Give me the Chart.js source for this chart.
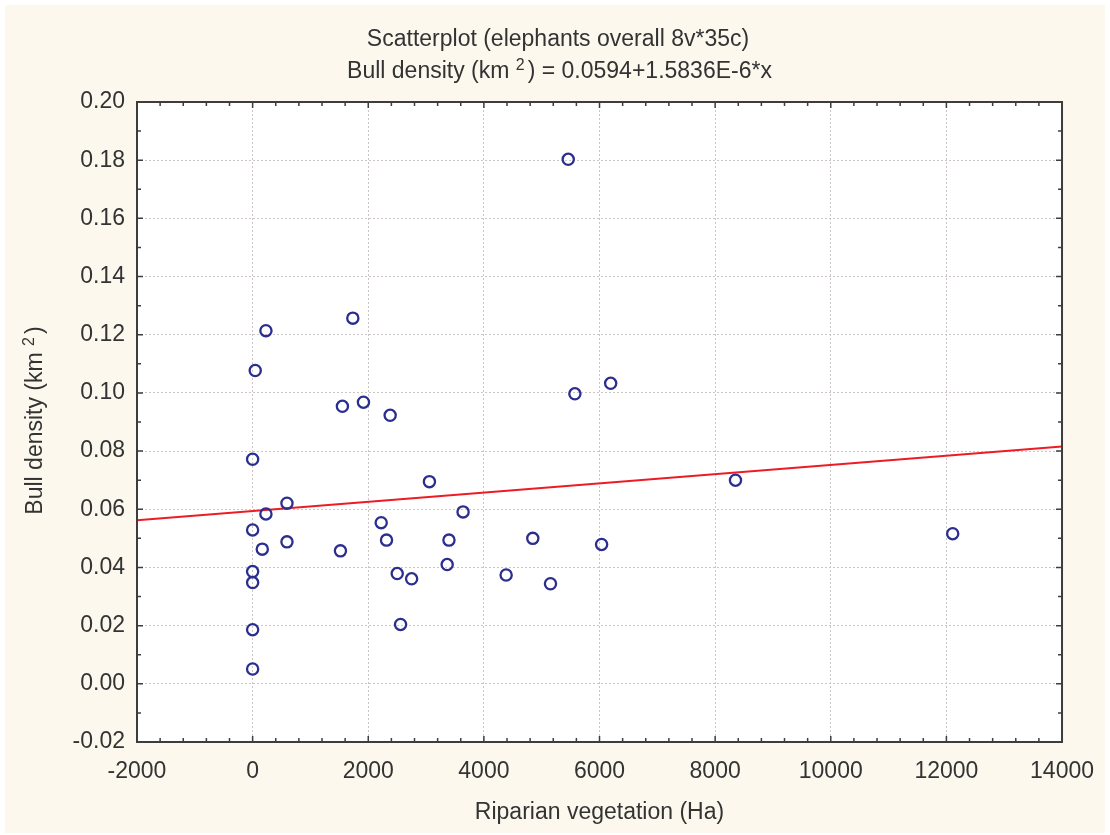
<!DOCTYPE html>
<html>
<head>
<meta charset="utf-8">
<title>Scatterplot (elephants overall 8v*35c)</title>
<script src="https://cdn.jsdelivr.net/npm/chart.js@4.4.1/dist/chart.umd.min.js"></script>
<style>
  html, body { margin: 0; padding: 0; background: #ffffff; }
  canvas { display: block; }
</style>
</head>
<body>
<canvas id="chart" width="1110" height="835"></canvas>
<script>
// Riparian vegetation (Ha) per site
const vegetationHa = [
    0, 0, 0, 0, 0, 0, 45, 230, 167, 230,
    594, 594, 1519, 1553, 1733, 1917, 2224, 2316, 2379, 2501,
    2559, 2750, 3058, 3365, 3396, 3640, 4385, 4846, 5152, 5459,
    5574, 6036, 6193, 8352, 12109
];

// Bull density (km2) per site
const bullDensity = [
    0.0051, 0.0186, 0.0348, 0.0386, 0.0529, 0.0772, 0.1077, 0.1214, 0.0463, 0.0584,
    0.0621, 0.0488, 0.0457, 0.0954, 0.1257, 0.0968, 0.0554, 0.0494, 0.0923, 0.0379,
    0.0204, 0.0361, 0.0695, 0.0410, 0.0494, 0.0591, 0.0374, 0.0500, 0.0344, 0.1803,
    0.0997, 0.0479, 0.1033, 0.0700, 0.0516
];

const xTicks = [-2000, 0, 2000, 4000, 6000, 8000, 10000, 12000, 14000];
const yTicks = [-0.02, 0.00, 0.02, 0.04, 0.06, 0.08, 0.10, 0.12, 0.14, 0.16, 0.18, 0.20];

// linear fit: y = a + b*x
const fitIntercept = 0.0594;
const fitSlope = 1.5836e-6;

// title lines, split where the superscript goes
const titleLine1 = [{ text: 'Scatterplot (elephants overall 8v*35c)' }];
const titleLine2 = [
    { text: 'Bull density (km ' },
    { text: '2', sup: true },
    { text: ') = 0.0594+1.5836E-6*x' }
];
const yAxisTitle = [
    { text: 'Bull density (km ' },
    { text: '2', sup: true },
    { text: ')' }
];

const textColor = '#333333';
const fontFamily = '"Liberation Sans", Arial, sans-serif';
const mainFont = '23px ' + fontFamily;
const supFont = '16px ' + fontFamily;

const points = vegetationHa.map((v, i) => ({ x: v, y: bullDensity[i] }));
const xMin = xTicks[0];
const xMax = xTicks[xTicks.length - 1];
const fitLine = [xMin, xMax].map(v => ({ x: v, y: fitIntercept + fitSlope * v }));

// draws a run of text centred on cx, superscript parts smaller and raised
function drawRichText(ctx, parts, cx, baseline) {
    const widths = parts.map(p => {
        ctx.font = p.sup ? supFont : mainFont;
        return ctx.measureText(p.text).width;
    });
    const total = widths.reduce((s, w) => s + w, 0);
    let x = cx - total / 2;
    ctx.textAlign = 'left';
    ctx.textBaseline = 'alphabetic';
    parts.forEach((p, i) => {
        ctx.font = p.sup ? supFont : mainFont;
        ctx.fillText(p.text, x, p.sup ? baseline - 8.5 : baseline);
        x += widths[i] + (p.sup ? 3 : 0);
    });
}

// paper background + white plot area
const backgroundPlugin = {
    id: 'background',
    beforeDraw(chart) {
        const { ctx, width, height, chartArea: a } = chart;
        ctx.save();
        ctx.fillStyle = '#ffffff';
        ctx.fillRect(0, 0, width, height);
        ctx.fillStyle = '#fcf8ee';
        ctx.fillRect(5, 5, width - 10, height - 7);
        ctx.fillStyle = '#ffffff';
        ctx.fillRect(a.left, a.top, a.right - a.left, a.bottom - a.top);
        ctx.restore();
    }
};

// chart title and rotated y title (both carry a km² superscript)
const titlesPlugin = {
    id: 'titles',
    afterDraw(chart) {
        const { ctx, chartArea: a } = chart;
        ctx.save();
        ctx.fillStyle = textColor;
        drawRichText(ctx, titleLine1, 558, 45.5);
        drawRichText(ctx, titleLine2, 558, 78);
        ctx.translate(42, (a.top + a.bottom) / 2);
        ctx.rotate(-Math.PI / 2);
        drawRichText(ctx, yAxisTitle, 0, 0);
        ctx.restore();
    }
};

// box frame with inward major/minor ticks on all four sides
const framePlugin = {
    id: 'frame',
    afterDraw(chart) {
        const { ctx, chartArea: a, scales: { x, y } } = chart;
        ctx.save();
        ctx.strokeStyle = '#3d3d3d';
        ctx.lineWidth = 1.5;
        ctx.beginPath();
        for (let i = 0; i < xTicks.length - 1; i++) {
            for (let k = 0; k < 5; k++) {
                const v = xTicks[i] + k * (xTicks[i + 1] - xTicks[i]) / 5;
                const px = x.getPixelForValue(v);
                const len = k === 0 ? 6 : 4;
                ctx.moveTo(px, a.bottom); ctx.lineTo(px, a.bottom - len);
                ctx.moveTo(px, a.top); ctx.lineTo(px, a.top + len);
            }
        }
        for (let i = 0; i < yTicks.length - 1; i++) {
            for (let k = 0; k < 2; k++) {
                const v = yTicks[i] + k * (yTicks[i + 1] - yTicks[i]) / 2;
                const py = y.getPixelForValue(v);
                const len = k === 0 ? 6 : 4;
                ctx.moveTo(a.left, py); ctx.lineTo(a.left + len, py);
                ctx.moveTo(a.right, py); ctx.lineTo(a.right - len, py);
            }
        }
        ctx.stroke();
        ctx.lineWidth = 2;
        ctx.strokeRect(a.left, a.top, a.right - a.left, a.bottom - a.top);
        ctx.restore();
    }
};

const gridOpts = {
    display: true,
    drawTicks: false,
    color: '#cbc5c5',
    lineWidth: 1
};

new Chart(document.getElementById('chart'), {
    type: 'scatter',
    data: {
        datasets: [
            {
                label: 'Bull density',
                data: points,
                pointStyle: 'circle',
                pointRadius: 5.6,
                pointBorderWidth: 2.3,
                pointBorderColor: '#2b2e8f',
                pointBackgroundColor: 'rgba(255,255,255,0)',
                showLine: false
            },
            {
                type: 'line',
                label: 'Fit',
                data: fitLine,
                borderColor: '#ed1c24',
                borderWidth: 2,
                pointRadius: 0,
                fill: false
            }
        ]
    },
    options: {
        responsive: false,
        animation: false,
        layout: {
            autoPadding: false,
            padding: { left: 0, right: 47, top: 102, bottom: 0 }
        },
        plugins: {
            legend: { display: false },
            tooltip: { enabled: false },
            title: { display: false }
        },
        scales: {
            x: {
                type: 'linear',
                min: xMin,
                max: xMax,
                afterBuildTicks: s => { s.ticks = xTicks.map(v => ({ value: v })); },
                afterFit: s => { s.height = 93; },
                grid: gridOpts,
                border: { display: false, dash: [2, 2] },
                ticks: {
                    color: textColor,
                    padding: 16,
                    maxRotation: 0,
                    font: { family: fontFamily, size: 23 },
                    callback: v => String(v)
                },
                title: {
                    display: true,
                    text: 'Riparian vegetation (Ha)',
                    color: textColor,
                    font: { family: fontFamily, size: 23 },
                    padding: { top: 0, bottom: 9 }
                }
            },
            y: {
                type: 'linear',
                min: yTicks[0],
                max: yTicks[yTicks.length - 1],
                afterBuildTicks: s => { s.ticks = yTicks.map(v => ({ value: v })); },
                afterFit: s => { s.width = 137; },
                grid: gridOpts,
                border: { display: false, dash: [2, 2] },
                ticks: {
                    color: textColor,
                    padding: 12,
                    font: { family: fontFamily, size: 23 },
                    callback: v => v.toFixed(2)
                }
            }
        }
    },
    plugins: [backgroundPlugin, titlesPlugin, framePlugin]
});
</script>
</body>
</html>
